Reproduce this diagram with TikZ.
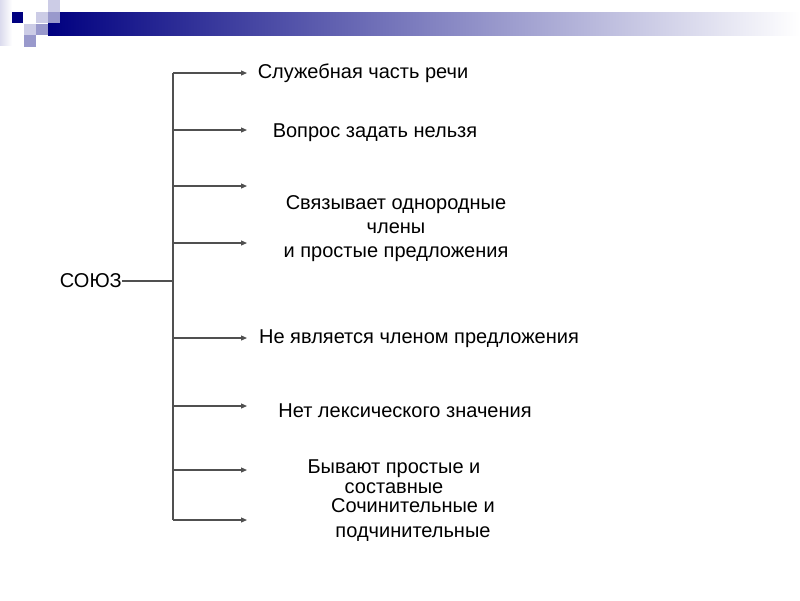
\documentclass[tikz,border=0pt]{standalone}
\usepackage{fontspec}
\setmainfont{Liberation Sans}
\usepackage{xcolor}
\definecolor{slidenavy}{RGB}{0,0,128}
\definecolor{slidelav}{RGB}{204,204,230}
\definecolor{slidemid}{RGB}{153,153,204}
\definecolor{linegray}{RGB}{80,80,80}
\usetikzlibrary{
  arrows.meta
}

\begin{document}
\begin{tikzpicture}[
    x=1pt, y=-1pt,
    item/.style={
      font=\fontsize{20}{24}\selectfont, align=center,
      anchor=base, inner sep=0pt, text=black,
    },
    branch/.style={-{Triangle[length=6pt,width=5pt]}, draw=linegray, line width=1.2pt},
  ]

  \useasboundingbox (0,0) rectangle (800,600);

  %% --- title bar ---
  \shade[left color=slidelav!70, right color=white] (0,0) rectangle (12,45);
  \shade[left color=slidenavy, right color=white] (48,12) rectangle (800,35);
  \fill[slidenavy] (12,12) rectangle (23,23);
  \fill[slidelav] (48,0) rectangle (60,12);
  \fill[slidelav] (36,12) rectangle (48,23);
  \fill[slidemid] (48,12) rectangle (60,23);
  \fill[slidelav] (24,24) rectangle (36,35);
  \fill[slidemid] (36,24) rectangle (48,35);
  \fill[slidemid] (24,35) rectangle (36,47);

  %% --- root ---
  \node[item, anchor=east] (soyuz) at (122,281) {СОЮЗ};
  \coordinate (spine) at (173,281);
  \coordinate (top) at (173,73);
  \coordinate (bot) at (173,520);
  \draw[linegray, line width=1.2pt] (soyuz.east) -- (spine);
  \draw[linegray, line width=1.2pt] (top) -- (bot);

  %% --- branches ---
  \foreach \y [count=\i] in {73,130,186,243,338,406,470,520} {
    \coordinate (s\i) at (173,\y);
    \coordinate (t\i) at (247,\y);
    \draw[branch] (s\i) -- (t\i);
  }

  %% --- properties (multi-line nodes sit on their last baseline) ---
  \node[item] (serv) at (363,78) {Служебная часть речи};
  \node[item] (vopr) at (375,137) {Вопрос задать нельзя};
  \node[item] (svyaz) at (396,257)
    {Связывает однородные\\ члены\\ и простые предложения};
  \node[item] (chlen) at (419,343) {Не является членом предложения};
  \node[item] (lex) at (405,417) {Нет лексического значения};
  \node[item, font=\fontsize{20}{20}\selectfont] (vid) at (394,493)
    {Бывают простые и\\ составные};
  \node[item, font=\fontsize{20}{25}\selectfont] (soch) at (413,537)
    {Сочинительные и\\ подчинительные};
\end{tikzpicture}
\end{document}
